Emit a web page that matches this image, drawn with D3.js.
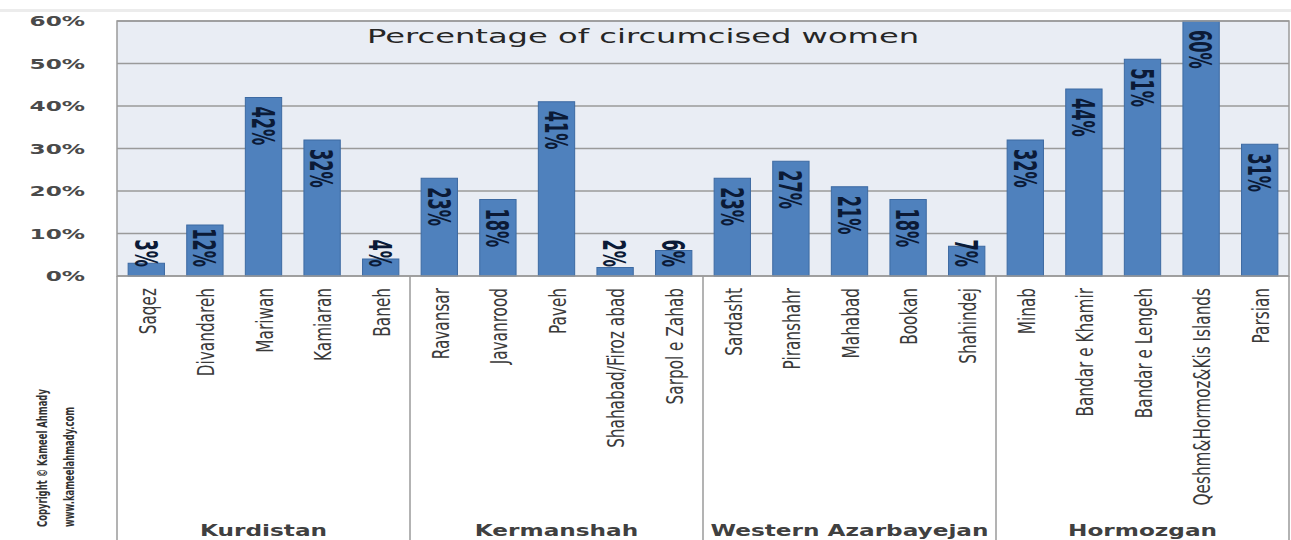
<!DOCTYPE html>
<html>
<head>
<meta charset="utf-8">
<script src="https://cdn.jsdelivr.net/npm/d3@7"></script>
<style>
  html, body { margin: 0; padding: 0; background: #ffffff; }
  svg { display: block; }
</style>
</head>
<body>
<svg id="chart" width="1291" height="540"></svg>
<script>
// ---- data ----
const categories = ["Saqez", "Divandareh", "Mariwan", "Kamiaran", "Baneh",
  "Ravansar", "Javanrood", "Paveh", "Shahabad/Firoz abad", "Sarpol e Zahab",
  "Sardasht", "Piranshahr", "Mahabad", "Bookan", "Shahindej",
  "Minab", "Bandar e Khamir", "Bandar e Lengeh", "Qeshm&Hormoz&Kis Islands", "Parsian"];
const values = [3, 12, 42, 32, 4, 23, 18, 41, 2, 6, 23, 27, 21, 18, 7, 32, 44, 51, 60, 31];
const groups = ["Kurdistan", "Kermanshah", "Western Azarbayejan", "Hormozgan"];
const groupSizes = [5, 5, 5, 5];
const yTicks = [0, 10, 20, 30, 40, 50, 60];
const titleText = "Percentage of circumcised women";
const creditLines = ["Copyright \u00a9 Kameel Ahmady", "www.kameelahmady.com"];

// ---- layout ----
const W = 1291, H = 540;
const plotL = 117, plotR = 1289, plotT = 21, plotB = 276;
const svg = d3.select("#chart");
const condensed = "Liberation Sans Narrow, DejaVu Sans Condensed, Arial Narrow, sans-serif";

const x = d3.scaleBand().domain(categories).range([plotL, plotR])
  .paddingInner(0.38).paddingOuter(0.19);
const y = d3.scaleLinear().domain([0, 60]).range([plotB, plotT]);

// faint top border of the picture
svg.append("rect").attr("x", 0).attr("y", 9).attr("width", W).attr("height", 3)
  .attr("fill", "#ececec");

// plot background
svg.append("rect").attr("x", plotL).attr("y", plotT)
  .attr("width", plotR - plotL).attr("height", plotB - plotT)
  .attr("fill", "#e9edf4");

// gridlines
svg.append("g").selectAll("line").data(yTicks).join("line")
  .attr("x1", plotL).attr("x2", plotR)
  .attr("y1", d => y(d)).attr("y2", d => y(d))
  .attr("stroke", "#9a9a9a").attr("stroke-width", 1.5);

// title
svg.append("text")
  .attr("transform", "translate(643,43) scale(1.65,1)")
  .attr("text-anchor", "middle")
  .attr("font-family", "DejaVu Sans, sans-serif")
  .attr("font-size", 19.5)
  .attr("fill", "#262626")
  .text(titleText);

// bars
svg.append("g").selectAll("rect").data(values).join("rect")
  .attr("x", (d, i) => x(categories[i]))
  .attr("width", x.bandwidth())
  .attr("y", d => y(d))
  .attr("height", d => plotB - y(d))
  .attr("fill", "#4f81bd")
  .attr("stroke", "#3d6aa2")
  .attr("stroke-width", 1);

// value labels (rotated, reading top to bottom)
const vl = svg.append("g").selectAll("text").data(values).join("text")
  .attr("text-anchor", "start")
  .attr("dy", "0.36em")
  .attr("font-family", condensed)
  .attr("font-weight", "bold")
  .attr("font-size", 18)
  .attr("fill", "#0b1a36")
  .text(d => d + "%");
vl.each(function (d, i) {
  const L = this.getComputedTextLength();
  const cx = x(categories[i]) + x.bandwidth() / 2;
  const ys = Math.min(y(d) + 9, plotB - 9 - L);
  d3.select(this).attr("transform", `translate(${cx},${ys}) scale(1.8,1) rotate(90)`);
});

// plot border
svg.append("rect").attr("x", plotL).attr("y", plotT)
  .attr("width", plotR - plotL).attr("height", plotB - plotT)
  .attr("fill", "none").attr("stroke", "#9a9a9a").attr("stroke-width", 1.5);

// y axis labels
svg.append("g").selectAll("text").data(yTicks).join("text")
  .attr("transform", d => `translate(85,${y(d)}) scale(1.6,1)`)
  .attr("text-anchor", "end")
  .attr("dy", "0.36em")
  .attr("font-family", "DejaVu Sans, sans-serif")
  .attr("font-weight", "bold")
  .attr("font-size", 14.5)
  .attr("fill", "#4a4a4a")
  .text(d => d + "%");

// x axis: category area separators
const bounds = [0];
groupSizes.forEach(s => bounds.push(bounds[bounds.length - 1] + s));
const sepX = i => plotL + (plotR - plotL) * bounds[i] / categories.length;
svg.append("g").selectAll("line").data(bounds).join("line")
  .attr("x1", (d, i) => sepX(i)).attr("x2", (d, i) => sepX(i))
  .attr("y1", plotB).attr("y2", H)
  .attr("stroke", "#9a9a9a").attr("stroke-width", 1.5);

// category labels (rotated, reading bottom to top)
svg.append("g").selectAll("text").data(categories).join("text")
  .attr("transform", d => `translate(${x(d) + x.bandwidth() / 2 + 1},288) scale(1.35,1) rotate(-90)`)
  .attr("text-anchor", "end")
  .attr("dy", "0.36em")
  .attr("font-family", condensed)
  .attr("font-size", 17)
  .attr("fill", "#3a3a3a")
  .text(d => d);

// group labels
svg.append("g").selectAll("text").data(groups).join("text")
  .attr("transform", (d, i) => `translate(${(sepX(i) + sepX(i + 1)) / 2},536) scale(1.45,1)`)
  .attr("text-anchor", "middle")
  .attr("font-family", "DejaVu Sans, sans-serif")
  .attr("font-weight", "bold")
  .attr("font-size", 16)
  .attr("fill", "#404040")
  .text(d => d);

// credit
svg.append("g").selectAll("text").data(creditLines).join("text")
  .attr("transform", (d, i) => `translate(${42 + i * 27},527) scale(1.45,1) rotate(-90)`)
  .attr("text-anchor", "start")
  .attr("dy", "0.36em")
  .attr("font-family", condensed)
  .attr("font-weight", "bold")
  .attr("font-size", 9.4)
  .attr("fill", "#333")
  .text(d => d);
</script>
</body>
</html>
